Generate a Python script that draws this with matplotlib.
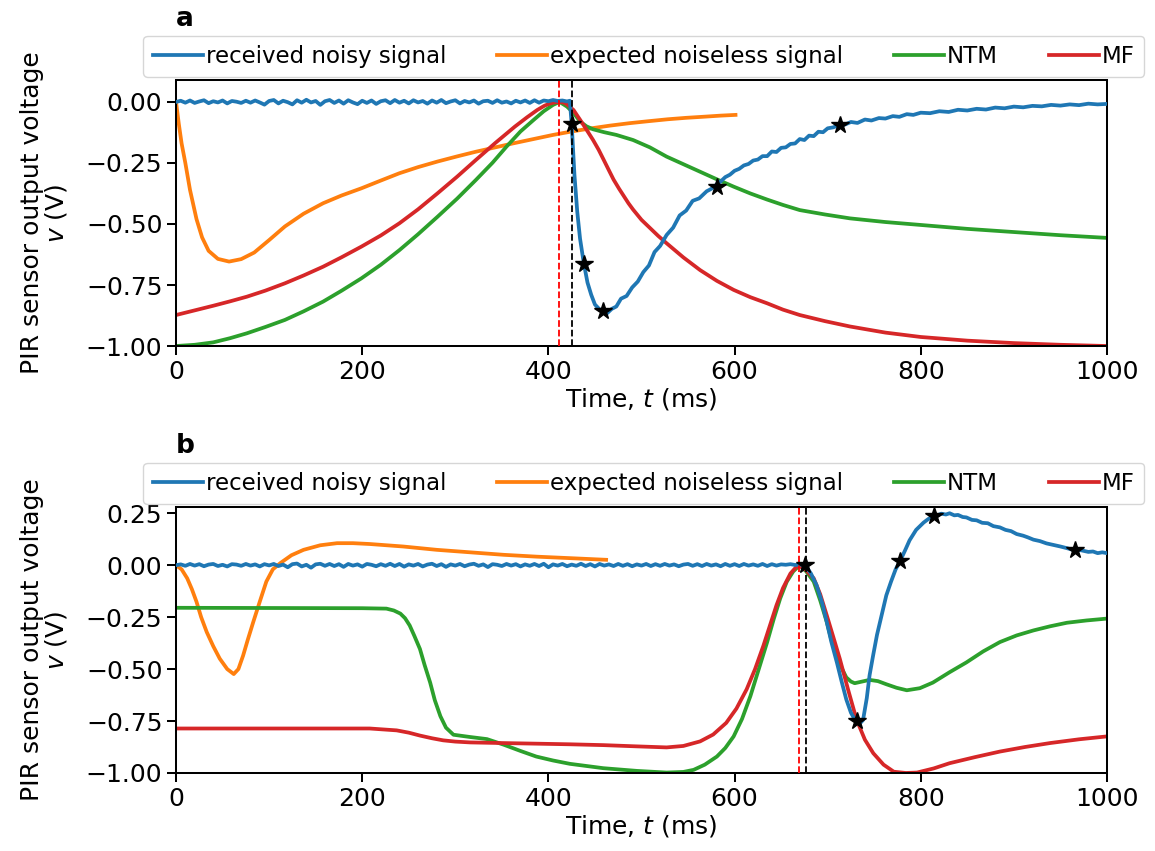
import matplotlib
matplotlib.use("Agg")
import matplotlib.pyplot as plt
import numpy as np

plt.rcParams['font.family'] = ['DejaVu Sans']
plt.rcParams['font.size'] = 18
plt.rcParams['axes.linewidth'] = 1.45

labels = ['received noisy signal', 'expected noiseless signal', 'NTM', 'MF']
colors = ['#1f77b4', '#ff7f0e', '#2ca02c', '#d62728']

# ---------------- panel a ----------------
# flat noisy part of received signal, 5 ms apart from t=0
a_flat = [0.000, 0.005, -0.003, 0.006, -0.004, 0.002, 0.007, -0.005, 0.003, -0.002,
          0.006, -0.006, 0.004, 0.001, -0.004, 0.005, -0.003, 0.006, -0.002, -0.011,
          0.004, 0.008, -0.006, 0.005, -0.001, -0.010, 0.007, -0.003, 0.009, -0.002,
          0.004, -0.012, 0.003, 0.008, -0.004, 0.006, -0.007, 0.007, -0.002, -0.009,
          0.005, -0.004, 0.006, -0.008, 0.003, 0.007, -0.005, 0.008, -0.003, 0.005,
          -0.006, 0.007, -0.002, 0.004, -0.007, 0.006, -0.003, 0.008, -0.005, 0.002,
          0.007, -0.006, 0.004, -0.002, 0.006, -0.007, 0.003, 0.005, -0.004, 0.007,
          -0.003, 0.002, -0.006, 0.005, -0.002, 0.006, -0.004, 0.007, -0.003, 0.006,
          0.003, 0.008, 0.004, 0.006, 0.002]
a_rest_t = [423, 425, 428, 431, 434, 438, 442, 446, 450, 455, 459, 463, 468, 473, 478,
            484, 490, 496, 502, 508, 514, 520, 527, 534, 541, 548, 555, 562, 570, 575,
            580, 585, 590, 595, 600, 605, 610, 615, 620, 625, 630, 635, 640, 645, 650,
            655, 660, 665, 670, 675, 680, 685, 690, 695, 700, 706, 713, 719, 725, 732,
            740, 747, 755, 762, 770, 777, 785, 792, 800, 810, 820, 830, 840, 850, 860,
            870, 880, 890, 900, 910, 920, 930, 940, 950, 960, 970, 980, 990, 1000]
a_rest_v = [0.005, -0.090, -0.300, -0.450, -0.560, -0.660, -0.740, -0.790, -0.830, -0.850,
            -0.857, -0.866, -0.848, -0.838, -0.806, -0.795, -0.760, -0.736, -0.697, -0.670,
            -0.615, -0.590, -0.545, -0.515, -0.465, -0.445, -0.405, -0.395, -0.366, -0.356,
            -0.340, -0.326, -0.308, -0.298, -0.282, -0.274, -0.260, -0.254, -0.240, -0.236,
            -0.222, -0.222, -0.203, -0.205, -0.188, -0.186, -0.172, -0.170, -0.152, -0.156,
            -0.138, -0.140, -0.122, -0.124, -0.108, -0.104, -0.094, -0.092, -0.082, -0.086,
            -0.072, -0.076, -0.066, -0.068, -0.058, -0.061, -0.050, -0.053, -0.044, -0.046,
            -0.038, -0.041, -0.032, -0.035, -0.028, -0.031, -0.023, -0.026, -0.019, -0.022,
            -0.016, -0.018, -0.012, -0.015, -0.010, -0.013, -0.007, -0.010, -0.008]

a_exp_t = [0, 3, 6, 10, 15, 22, 28, 35, 45, 57, 70, 84, 100, 117, 137, 158, 178, 199,
           220, 240, 260, 281, 302, 322, 343, 363, 384, 405, 425, 446, 466, 487, 507,
           528, 548, 569, 585, 601]
a_exp_v = [0.0, -0.09, -0.17, -0.25, -0.36, -0.48, -0.555, -0.61, -0.643, -0.654, -0.644,
           -0.617, -0.566, -0.51, -0.458, -0.415, -0.383, -0.354, -0.322, -0.292, -0.267,
           -0.244, -0.223, -0.204, -0.186, -0.169, -0.152, -0.135, -0.121, -0.108,
           -0.097, -0.087, -0.079, -0.071, -0.065, -0.060, -0.056, -0.053]

a_ntm_t = [0, 20, 40, 58, 76, 96, 117, 137, 158, 178, 199, 220, 240, 260, 281, 302, 322,
           340, 355, 370, 384, 395, 405, 412, 420, 427, 434, 441, 448, 460, 473, 491, 509,
           527, 545, 563, 581, 599, 617, 635, 652, 670, 697, 724, 762, 800, 850, 900, 950,
           1000]
a_ntm_v = [-1.0, -0.995, -0.985, -0.968, -0.948, -0.922, -0.893, -0.858, -0.818, -0.773,
           -0.723, -0.667, -0.607, -0.542, -0.470, -0.396, -0.320, -0.249, -0.183, -0.121,
           -0.074, -0.038, -0.012, 0.0, -0.019, -0.045, -0.080, -0.100, -0.112, -0.124,
           -0.135, -0.156, -0.186, -0.224, -0.255, -0.286, -0.317, -0.347, -0.375, -0.400,
           -0.422, -0.443, -0.461, -0.477, -0.492, -0.504, -0.520, -0.533, -0.546, -0.557]

a_mf_t = [0, 20, 40, 58, 76, 96, 117, 137, 158, 178, 199, 220, 240, 260, 281, 302, 322,
          343, 364, 377, 388, 396, 402, 408, 412, 417, 420, 427, 437, 448, 454, 459, 465,
          470, 476, 486, 491, 500, 509, 518, 527, 545, 563, 581, 599, 617, 635, 652, 670,
          697, 724, 762, 800, 850, 900, 950, 1000]
a_mf_v = [-0.873, -0.854, -0.835, -0.817, -0.798, -0.773, -0.743, -0.711, -0.675, -0.636,
          -0.593, -0.547, -0.497, -0.440, -0.374, -0.306, -0.238, -0.168, -0.101, -0.063,
          -0.033, -0.015, -0.006, -0.001, 0.0, -0.003, -0.010, -0.033, -0.090, -0.156,
          -0.196, -0.234, -0.280, -0.318, -0.356, -0.415, -0.441, -0.483, -0.516, -0.549,
          -0.579, -0.637, -0.689, -0.733, -0.770, -0.800, -0.825, -0.851, -0.873, -0.898,
          -0.920, -0.945, -0.963, -0.978, -0.988, -0.995, -1.0]

a_star_t = [425, 438, 459, 581, 713]
a_star_v = [-0.092, -0.664, -0.857, -0.348, -0.094]
a_vline_mf = 411.5
a_vline_ntm = 425

# ---------------- panel b ----------------
b_flat = [0.000, 0.004, -0.003, 0.006, -0.002, 0.005, -0.005, 0.003, 0.006, -0.004,
          0.002, -0.006, 0.005, 0.003, -0.003, 0.006, -0.002, 0.004, -0.006, 0.005,
          -0.001, 0.006, -0.004, 0.003, -0.010, 0.005, 0.008, -0.006, 0.002, -0.012,
          0.004, 0.007, -0.003, 0.006, -0.004, 0.005, -0.008, 0.006, -0.002, 0.004,
          -0.007, 0.006, 0.002, -0.005, 0.005, -0.003, 0.007, -0.004, 0.006, -0.007,
          0.004, -0.002, 0.006, -0.006, 0.003, 0.007, -0.004, 0.005, -0.008, 0.004,
          -0.002, 0.006, -0.005, 0.003, 0.007, -0.003, 0.004, -0.009, 0.005, 0.002,
          -0.004, 0.006, -0.002, 0.005, -0.006, 0.004, -0.003, 0.006, -0.004, 0.007,
          -0.010, 0.004, -0.002, 0.006, -0.005, 0.003, -0.003, 0.007, -0.004, 0.005,
          -0.006, 0.006, -0.002, 0.004, -0.004, 0.006, -0.003, 0.005, -0.005, 0.004,
          -0.002, 0.006, -0.004, 0.005, -0.003, 0.006, -0.002, 0.004, -0.005, 0.003,
          0.006, -0.003, 0.005, -0.004, 0.006, -0.002, 0.004, -0.005, 0.006, -0.003,
          0.005, -0.004, 0.006, -0.002, 0.004, -0.003, 0.006, -0.004, 0.005, -0.002,
          0.004, 0.002, 0.005, 0.001, 0.003]
b_rest_t = [676, 682, 688, 694, 699, 704, 710, 715, 720, 725, 730, 734, 738, 742, 745,
            749, 753, 758, 763, 768, 773, 778, 783, 788, 795, 803, 808, 813, 818, 822,
            827, 831, 836, 840, 845, 849, 855, 860, 866, 872, 878, 885, 891, 897, 903,
            910, 915, 921, 928, 935, 942, 950, 957, 965, 972, 980, 985, 990, 995, 1000]
b_rest_v = [0.000, -0.040, -0.095, -0.180, -0.273, -0.370, -0.470, -0.560, -0.646, -0.710,
            -0.750, -0.765, -0.745, -0.640, -0.530, -0.430, -0.335, -0.240, -0.145, -0.080,
            -0.020, 0.022, 0.070, 0.120, 0.170, 0.205, 0.222, 0.235, 0.240, 0.248,
            0.244, 0.250, 0.240, 0.242, 0.232, 0.230, 0.218, 0.216, 0.204, 0.202,
            0.188, 0.182, 0.170, 0.164, 0.150, 0.142, 0.134, 0.123, 0.116, 0.105,
            0.098, 0.090, 0.082, 0.072, 0.072, 0.064, 0.066, 0.058, 0.062, 0.058]

b_exp_t = [0, 6, 12, 17, 22, 27, 33, 40, 47, 55, 62, 67, 72, 77, 83, 90, 97, 104, 112,
           124, 137, 155, 173, 190, 208, 244, 280, 316, 352, 388, 423, 462]
b_exp_v = [0.0, -0.02, -0.063, -0.115, -0.176, -0.25, -0.322, -0.39, -0.45, -0.50,
           -0.524, -0.50, -0.436, -0.36, -0.273, -0.175, -0.079, -0.02, 0.01, 0.048,
           0.074, 0.096, 0.106, 0.106, 0.102, 0.090, 0.074, 0.062, 0.050, 0.041, 0.034,
           0.026]

b_ntm_t = [0, 100, 200, 226, 234, 241, 246, 251, 256, 262, 267, 273, 278, 284, 290, 298,
           316, 334, 352, 370, 387, 405, 423, 459, 495, 527, 545, 556, 568, 581, 590, 599,
           608, 617, 626, 635, 642, 649, 656, 663, 670, 677, 685, 692, 699, 704, 710, 715,
           720, 725, 729, 737, 745, 754, 763, 774, 785, 799, 813, 831, 849, 867, 885, 903,
           921, 939, 957, 978, 1000]
b_ntm_v = [-0.205, -0.206, -0.207, -0.209, -0.218, -0.233, -0.255, -0.290, -0.340, -0.403,
           -0.480, -0.565, -0.650, -0.727, -0.782, -0.816, -0.827, -0.837, -0.864, -0.894,
           -0.921, -0.940, -0.956, -0.977, -0.990, -0.998, -0.995, -0.985, -0.960, -0.921,
           -0.880, -0.824, -0.740, -0.630, -0.500, -0.370, -0.260, -0.160, -0.080, -0.030,
           0.0, -0.030, -0.079, -0.170, -0.273, -0.360, -0.435, -0.495, -0.540, -0.560,
           -0.568, -0.560, -0.552, -0.558, -0.573, -0.590, -0.602, -0.592, -0.565, -0.515,
           -0.468, -0.415, -0.370, -0.338, -0.314, -0.294, -0.277, -0.266, -0.257]

b_mf_t = [0, 100, 208, 237, 250, 262, 275, 287, 300, 316, 350, 387, 423, 459, 495, 527,
          545, 563, 577, 591, 602, 613, 622, 631, 638, 645, 652, 660, 668, 676, 685, 692,
          699, 706, 713, 722, 731, 740, 749, 760, 771, 784, 796, 814, 831, 858, 885, 912,
          939, 970, 1000]
b_mf_v = [-0.786, -0.786, -0.786, -0.795, -0.806, -0.820, -0.833, -0.843, -0.849, -0.853,
          -0.856, -0.859, -0.862, -0.866, -0.872, -0.877, -0.870, -0.848, -0.815, -0.759,
          -0.690, -0.597, -0.500, -0.387, -0.290, -0.193, -0.110, -0.040, 0.0, -0.020,
          -0.063, -0.140, -0.241, -0.345, -0.450, -0.600, -0.743, -0.840, -0.905, -0.960,
          -0.994, -1.000, -0.998, -0.978, -0.953, -0.924, -0.897, -0.875, -0.856, -0.838,
          -0.824]

b_star_t = [676, 731, 778, 814, 966]
b_star_v = [0.0, -0.751, 0.022, 0.236, 0.072]
b_vline_mf = 669.5
b_vline_ntm = 676.3

a_blue_t = list(np.arange(len(a_flat)) * 5) + a_rest_t
a_blue_v = a_flat + a_rest_v
b_blue_t = list(np.arange(len(b_flat)) * 5) + b_rest_t
b_blue_v = b_flat + b_rest_v

panels = [
    dict(name='a', blue=(a_blue_t, a_blue_v), exp=(a_exp_t, a_exp_v), ntm=(a_ntm_t, a_ntm_v),
         mf=(a_mf_t, a_mf_v), stars=(a_star_t, a_star_v), vl=(a_vline_mf, a_vline_ntm),
         ylim=(-1.0, 0.09), yticks=[0.0, -0.25, -0.5, -0.75, -1.0],
         pos=[0.1524, 0.5934, 0.806, 0.3126]),
    dict(name='b', blue=(b_blue_t, b_blue_v), exp=(b_exp_t, b_exp_v), ntm=(b_ntm_t, b_ntm_v),
         mf=(b_mf_t, b_mf_v), stars=(b_star_t, b_star_v), vl=(b_vline_mf, b_vline_ntm),
         ylim=(-1.0, 0.28), yticks=[0.25, 0.0, -0.25, -0.5, -0.75, -1.0],
         pos=[0.1524, 0.0917, 0.806, 0.3125]),
]

fig = plt.figure(figsize=(11.55, 8.51), dpi=100)
for p in panels:
    ax = fig.add_axes(p['pos'])
    lw = 2.7
    ax.plot(*p['blue'], color=colors[0], lw=lw, label=labels[0], zorder=3)
    ax.plot(*p['exp'], color=colors[1], lw=lw, label=labels[1], zorder=2)
    ax.plot(*p['ntm'], color=colors[2], lw=lw, label=labels[2], zorder=2)
    ax.plot(*p['mf'], color=colors[3], lw=lw, label=labels[3], zorder=2)
    ax.axvline(p['vl'][0], color='red', ls='--', lw=1.3, zorder=4)
    ax.axvline(p['vl'][1], color='black', ls='--', lw=1.3, zorder=4)
    ax.plot(*p['stars'], ls='none', marker='*', color='black', ms=13, zorder=5)
    ax.set_xlim(0, 1000)
    ax.set_ylim(*p['ylim'])
    ax.set_yticks(p['yticks'])
    ax.set_xticks([0, 200, 400, 600, 800, 1000])
    ax.tick_params(labelsize=18, width=1.45, length=6.3)
    ax.set_xlabel('Time, $t$ (ms)', fontsize=18, labelpad=2)
    ax.set_ylabel('PIR sensor output voltage\n$v$ (V)', fontsize=18, labelpad=12,
                  linespacing=0.95)
    ax.legend(loc='lower left', bbox_to_anchor=(-0.035, 1.011, 1.075, 0.154),
              mode='expand', ncol=4, borderaxespad=0, fontsize=16.5,
              handlelength=2.2, handletextpad=0.12)
    ax.text(0.0, 1.23, p['name'], transform=ax.transAxes, fontsize=19,
            fontweight='bold', ha='left', va='center')

fig.savefig('out.png', dpi=100)
